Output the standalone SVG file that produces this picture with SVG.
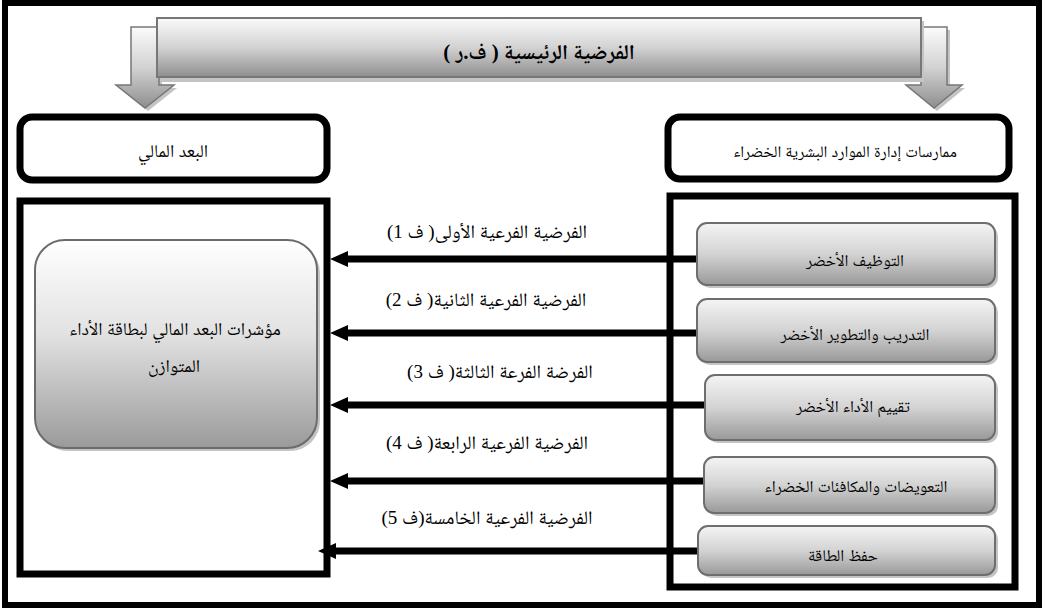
<svg xmlns="http://www.w3.org/2000/svg" width="1046" height="608" viewBox="0 0 1046 608">
<defs>
<linearGradient id="gBanner" x1="0" y1="0" x2="0" y2="1">
<stop offset="0" stop-color="#fbfbfb"/><stop offset="0.5" stop-color="#d2d2d2"/><stop offset="1" stop-color="#8e8e8e"/>
</linearGradient>
<linearGradient id="gBox" x1="0" y1="0" x2="0" y2="1">
<stop offset="0" stop-color="#f4f4f4"/><stop offset="0.5" stop-color="#d3d3d3"/><stop offset="1" stop-color="#999"/>
</linearGradient>
<linearGradient id="gNode" x1="0" y1="0" x2="0" y2="1">
<stop offset="0" stop-color="#ffffff"/><stop offset="0.45" stop-color="#e2e2e2"/><stop offset="1" stop-color="#9a9a9a"/>
</linearGradient>
<marker id="ah" markerUnits="userSpaceOnUse" markerWidth="18" markerHeight="16" viewBox="0 0 18 16" refX="0" refY="8" orient="auto">
<path d="M0,0 L18,8 L0,16 z" fill="#000"/>
</marker>
<style>
.t{font-family:"Liberation Serif","Noto Naskh Arabic","Noto Sans Arabic","DejaVu Sans",serif;font-size:18px;fill:#000;direction:rtl;text-anchor:middle}
.s{font-size:16.5px}
.l{font-size:19px}
.hb{fill:#fff;stroke:#000;stroke-width:7}
.fr{fill:none;stroke:#000;stroke-width:7}
.gb{fill:url(#gBox);stroke:#6e6e6e;stroke-width:2}
.sh{fill:#c4c4c4}
.conn{stroke:#000;stroke-width:7;fill:none;marker-end:url(#ah)}
.dn{fill:url(#gBanner);stroke:#777;stroke-width:1.5}
</style>
</defs>
<rect x="5" y="3" width="1034" height="602" fill="#fff" stroke="#000" stroke-width="6"/>

<g id="banner">
<polygon class="sh" points="134,30 162,30 162,88 177,88 148,111 119,88 134,88"/>
<polygon class="dn" points="131,27 159,27 159,85 174,85 145,108 116,85 131,85"/>
<polygon class="sh" points="924,30 950,30 950,88 965,88 937,111 909,88 924,88"/>
<polygon class="dn" points="921,27 947,27 947,85 962,85 934,108 906,85 921,85"/>
<rect class="sh" x="160" y="21" width="764" height="61"/>
<rect x="157" y="18" width="764" height="59" fill="url(#gBanner)" stroke="#777" stroke-width="2"/>
<text class="t" x="539" y="59" style="font-weight:bold;font-size:21px">الفرضية الرئيسية ( ف.ر )</text>
</g>

<g id="hdr-left">
<rect class="hb" x="20" y="117" width="307" height="63" rx="12"/>
<text class="t" x="173" y="157">البعد المالي</text>
</g>
<g id="hdr-right">
<rect class="hb" x="668" y="117" width="341" height="62" rx="12"/>
<text class="t" x="845" y="157" style="font-size:16.2px">ممارسات إدارة الموارد البشرية الخضراء</text>
</g>

<g id="frame-left"><rect class="fr" x="20" y="201" width="307" height="373"/></g>
<g id="frame-right"><rect class="fr" x="670" y="196" width="345" height="391"/></g>

<g id="node-indicators">
<rect class="sh" x="38" y="243" width="282" height="208" rx="30"/>
<rect x="35" y="240" width="282" height="208" rx="30" fill="url(#gNode)" stroke="#6b6b6b" stroke-width="2"/>
<text class="t" x="175" y="335">مؤشرات البعد المالي لبطاقة الأداء</text>
<text class="t" x="174" y="372">المتوازن</text>
</g>

<g id="connectors">
<line class="conn" x1="698" y1="259" x2="348" y2="259"/>
<line class="conn" x1="698" y1="333" x2="348" y2="333"/>
<line class="conn" x1="706" y1="405" x2="348" y2="405"/>
<line class="conn" x1="705" y1="481" x2="348" y2="481"/>
<line class="conn" x1="699" y1="551" x2="336" y2="551"/>
<text class="t l" x="487" y="238">الفرضية الفرعية الأولى( ف 1)</text>
<text class="t l" x="486" y="306">الفرضية الفرعية الثانية( ف 2)</text>
<text class="t l" x="500" y="378">الفرضة الفرعة الثالثة( ف 3)</text>
<text class="t l" x="487" y="449">الفرضية الفرعية الرابعة( ف 4)</text>
<text class="t l" x="487" y="524">الفرضية الفرعية الخامسة(ف 5)</text>
</g>

<g id="p1">
<rect class="sh" x="700" y="226" width="298" height="62" rx="10"/>
<rect class="gb" x="697" y="223" width="298" height="62" rx="10"/>
<text class="t s" x="855" y="266">التوظيف الأخضر</text>
</g>
<g id="p2">
<rect class="sh" x="700" y="302" width="298" height="63" rx="10"/>
<rect class="gb" x="697" y="299" width="298" height="63" rx="10"/>
<text class="t s" x="855" y="340">التدريب والتطوير الأخضر</text>
</g>
<g id="p3">
<rect class="sh" x="708" y="378" width="290" height="65" rx="10"/>
<rect class="gb" x="705" y="375" width="290" height="65" rx="10"/>
<text class="t s" x="853" y="412">تقييم الأداء الأخضر</text>
</g>
<g id="p4">
<rect class="sh" x="707" y="460" width="291" height="56" rx="10"/>
<rect class="gb" x="704" y="457" width="291" height="56" rx="10"/>
<text class="t s" x="856" y="492">التعويضات والمكافئات الخضراء</text>
</g>
<g id="p5">
<rect class="sh" x="701" y="529" width="297" height="49" rx="10"/>
<rect class="gb" x="698" y="526" width="297" height="49" rx="10"/>
<text class="t s" x="843" y="561">حفظ الطاقة</text>
</g>
</svg>
